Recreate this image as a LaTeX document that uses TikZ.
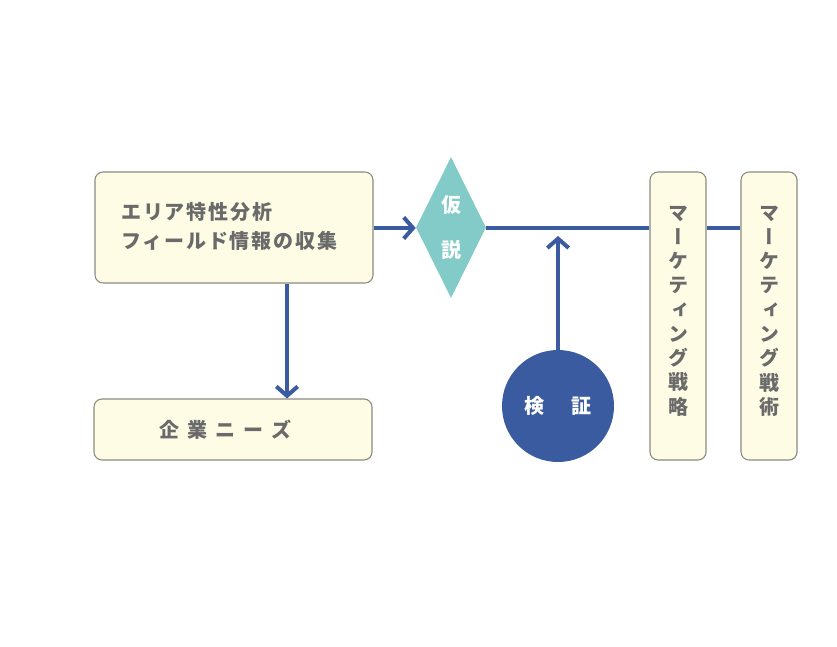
\documentclass[tikz,border=0pt]{standalone}
\usepackage{fontspec}
\usetikzlibrary{arrows.meta,shapes.geometric}
\newfontfamily\jp[LetterSpace=9]{Noto Sans CJK JP}
\newfontfamily\jpplain{Noto Sans CJK JP}
\newfontfamily\jpv[RawFeature=+vert]{Noto Sans CJK JP}
\definecolor{cream}{HTML}{FEFCE4}
\definecolor{boxline}{HTML}{8A8A80}
\definecolor{txtgray}{HTML}{6A6A6A}
\definecolor{lineblue}{HTML}{3B5BA0}
\definecolor{hypteal}{HTML}{82CBC8}
\tikzset{
  infobox/.style={draw=boxline, line width=0.8pt, fill=cream, rounded corners=6pt, inner sep=0pt},
  conn/.style={draw=lineblue, line width=3pt},
  arr/.style={conn, -{Straight Barb[length=7pt,width=16pt]}},
  boxtext/.style={text=txtgray, font=\jp\bfseries\fontsize{15}{21.75}\selectfont, inner sep=0pt},
  vtext/.style={text=txtgray, font=\jpv\bfseries\fontsize{15}{18.2}\selectfont, align=center, inner sep=0pt},
  whitetext/.style={text=white, font=\jpplain\bfseries\fontsize{15}{33.75}\selectfont, align=center, inner sep=0pt}
}
\begin{document}
\begin{tikzpicture}[x=0.75pt,y=-0.75pt]
\useasboundingbox (0,0) rectangle (837,646);
% boxes
\node[infobox, minimum width=208.5pt, minimum height=83.25pt] (area) at (234,227.5) {};
\node[boxtext, anchor=west, align=left] (areatext) at (121,226) {エリア特性分析\\フィールド情報の収集};
\node[infobox, minimum width=208.5pt, minimum height=45.75pt] (needs) at (233,429.5) {};
\node[text=txtgray, font=\jpplain\bfseries\fontsize{15}{18}\selectfont, inner sep=0pt] (needstext) at (225,430) {\spaceskip=6pt 企 業 ニ ー ズ};
\node[infobox, minimum width=42pt, minimum height=216pt] (strat) at (678,316) {};
\node[vtext] (strattext) at (678,311) {マ\\ー\\ケ\\テ\\ィ\\ン\\グ\\戦\\略};
\node[infobox, minimum width=42pt, minimum height=216pt] (tact) at (769,316) {};
\node[vtext] (tacttext) at (769,311) {マ\\ー\\ケ\\テ\\ィ\\ン\\グ\\戦\\術};
% hypothesis diamond
\node[diamond, fill=hypteal, minimum width=52.5pt, minimum height=105.75pt, inner sep=0pt] (hyp) at (451,227.5) {};
\node[whitetext] (hyptext) at (hyp.center) {仮\\説};
% verification circle
\node[circle, fill=lineblue, minimum size=84pt, inner sep=0pt] (verify) at (558,406) {};
\node[text=white, font=\jpplain\bfseries\fontsize{15}{18}\selectfont, inner sep=0pt] (verifytext) at (verify.center) {検\hspace{5pt}　証};
% connectors
\coordinate (uptip) at (558,236);
\draw[arr] (area.east |- 0,228) -- (hyp.west |- 0,228);
\draw[arr] (area.south -| 287,0) -- (needs.north -| 287,0);
\draw[conn] (hyp.east |- 0,228) -- (strat.west |- 0,228);
\draw[conn] (strat.east |- 0,228) -- (tact.west |- 0,228);
\draw[arr] (verify.north) -- (uptip);
\end{tikzpicture}
\end{document}
